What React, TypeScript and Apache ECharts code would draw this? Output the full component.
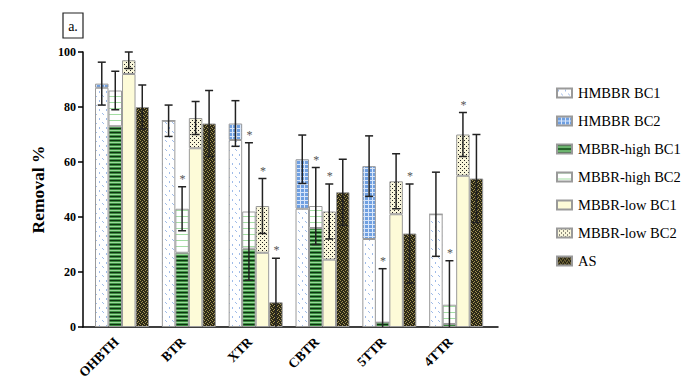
import React, { useEffect, useRef } from 'react';
import * as echarts from 'echarts';

const categories = ['OHBTH', 'BTR', 'XTR', 'CBTR', '5TTR', '4TTR'];
const seriesNames = ['HMBBR BC1', 'HMBBR BC2', 'MBBR-high BC1', 'MBBR-high BC2', 'MBBR-low BC1', 'MBBR-low BC2', 'AS'];

// stacked segment values (BC2 = extra on top of BC1)
const hmbbrBC1 = [87, 75, 68, 43, 32, 41];
const hmbbrBC2 = [1.5, 0, 6, 18, 26.5, 0];
const highBC1 = [73, 27, 28.5, 36, 1.7, 1.1];
const highBC2 = [13, 16, 13.5, 8, 0, 7];
const lowBC1 = [92, 65, 27, 24.5, 41, 55];
const lowBC2 = [5, 11, 17, 17.5, 12, 15];
const asValues = [80, 74, 9, 49, 34, 54];

// error (+/-) on totals
const hmbbrErr = [7.8, 5.7, 8.3, 8.8, 11, 15.3];
const highErr = [7, 8, 25, 14, 19.5, 16];
const lowErr = [3, 6, 10, 10, 10, 8];
const asErr = [8, 12, 16, 12, 18, 16];

// significance asterisks
const hmbbrStar = [0, 0, 0, 0, 0, 0];
const highStar = [0, 1, 1, 1, 1, 1];
const lowStar = [0, 0, 1, 1, 0, 1];
const asStar = [0, 0, 1, 0, 1, 0];

const yTicks = { min: 0, max: 100, interval: 20 };

const BAR_W = 13.5;
const SERIF = 'Liberation Serif';

function makePattern(w: number, h: number, draw: (ctx: CanvasRenderingContext2D) => void) {
  const c = document.createElement('canvas');
  c.width = w;
  c.height = h;
  const ctx = c.getContext('2d') as CanvasRenderingContext2D;
  draw(ctx);
  return { image: c, repeat: 'repeat' } as any;
}

function px(ctx: CanvasRenderingContext2D, color: string, pts: number[][]) {
  ctx.fillStyle = color;
  pts.forEach(([x, y]) => ctx.fillRect(x, y, 1, 1));
}

export default function App() {
  const ref = useRef<HTMLDivElement>(null);

  useEffect(() => {
    if (!ref.current) return;
    const chart = echarts.init(ref.current, undefined, { renderer: 'svg' });

    const pHBC1 = makePattern(7, 9, (ctx) => {
      ctx.fillStyle = '#ffffff';
      ctx.fillRect(0, 0, 7, 9);
      px(ctx, '#9fbbe8', [[1, 1], [1, 2], [4, 5], [5, 6]]);
    });
    const pHBC2 = makePattern(4, 4, (ctx) => {
      ctx.fillStyle = '#6f9fe0';
      ctx.fillRect(0, 0, 4, 4);
      ctx.fillStyle = '#d8e6fa';
      ctx.fillRect(0, 0, 4, 1);
      ctx.fillRect(0, 0, 1, 4);
    });
    const pMH1 = makePattern(4, 4, (ctx) => {
      ctx.fillStyle = '#0e3312';
      ctx.fillRect(0, 0, 4, 1);
      ctx.fillStyle = '#3a8c3e';
      ctx.fillRect(0, 1, 4, 1);
      ctx.fillStyle = '#9ad89a';
      ctx.fillRect(0, 2, 4, 1);
      ctx.fillStyle = '#3f9444';
      ctx.fillRect(0, 3, 4, 1);
    });
    const pMH2 = makePattern(4, 6, (ctx) => {
      ctx.fillStyle = '#ffffff';
      ctx.fillRect(0, 0, 4, 6);
      ctx.fillStyle = '#a3dea3';
      ctx.fillRect(0, 0, 4, 1);
    });
    const pML1 = '#fdfbd8';
    const pML2 = makePattern(4, 4, (ctx) => {
      ctx.fillStyle = '#f9f6da';
      ctx.fillRect(0, 0, 4, 4);
      px(ctx, '#222222', [[0, 0], [2, 2]]);
    });
    const pAS = makePattern(4, 4, (ctx) => {
      ctx.fillStyle = '#2c2918';
      ctx.fillRect(0, 0, 4, 4);
      px(ctx, '#a39350', [[0, 0], [2, 1], [1, 2], [3, 3]]);
    });

    const border = { borderColor: '#9a9a9a', borderWidth: 1 };
    const mkBar = (name: string, data: number[], stack: string, color: any) => ({
      name,
      type: 'bar',
      xAxisIndex: 1,
      yAxisIndex: 1,
      stack,
      barWidth: BAR_W,
      barGap: '0%',
      data,
      itemStyle: { color, ...border },
      emphasis: { disabled: true },
    });

    const groups = [
      { a: hmbbrBC1, b: hmbbrBC2, err: hmbbrErr, star: hmbbrStar },
      { a: highBC1, b: highBC2, err: highErr, star: highStar },
      { a: lowBC1, b: lowBC2, err: lowErr, star: lowStar },
      { a: asValues, b: null as number[] | null, err: asErr, star: asStar },
    ];
    const errData: number[][] = [];
    groups.forEach((g, gi) => {
      categories.forEach((_, i) => {
        const total = g.a[i] + (g.b ? g.b[i] : 0);
        errData.push([i, total, g.err[i], gi, g.star[i]]);
      });
    });

    const labelFont = { fontFamily: SERIF, fontWeight: 'bold' as const, color: '#000' };

    chart.setOption({
      animation: false,
      backgroundColor: '#ffffff',
      grid: [
        { left: 83, top: 52, width: 415, height: 275 },
        { left: 88.6, top: 52, width: 401, height: 275 },
      ],
      xAxis: [
        {
          gridIndex: 0, type: 'value', min: 0, max: 1,
          axisLine: { show: true, lineStyle: { color: '#000', width: 1.5 } },
          axisTick: { show: false }, axisLabel: { show: false }, splitLine: { show: false },
        },
        {
          gridIndex: 1, type: 'category', data: categories,
          axisLine: { show: false }, axisTick: { show: false },
          axisLabel: { rotate: 45, margin: 7, padding: [0, 8, 0, 0], fontSize: 13.5, ...labelFont, interval: 0 },
        },
      ],
      yAxis: [
        {
          gridIndex: 0, type: 'value', min: yTicks.min, max: yTicks.max, interval: yTicks.interval,
          axisLine: { show: true, lineStyle: { color: '#000', width: 1.5 } },
          axisTick: { show: true, length: 5, lineStyle: { color: '#000', width: 1.5 } },
          axisLabel: { margin: 7, fontSize: 12, ...labelFont },
          splitLine: { show: false },
          name: 'Removal %', nameLocation: 'middle', nameGap: 30, nameRotate: 90,
          nameTextStyle: { fontSize: 17.5, ...labelFont },
        },
        { gridIndex: 1, type: 'value', min: yTicks.min, max: yTicks.max, show: false },
      ],
      legend: {
        orient: 'vertical', left: 551, top: 80,
        itemWidth: 15, itemHeight: 9, itemGap: 12, icon: 'rect',
        textStyle: { fontFamily: SERIF, fontSize: 14.5, color: '#000', lineHeight: 16, padding: [0, 0, 0, 1] },
        data: seriesNames,
        selectedMode: false,
      },
      graphic: [
        { type: 'rect', shape: { x: 63, y: 13, width: 20, height: 25 }, style: { fill: '#fff', stroke: '#222', lineWidth: 1.2 } },
        { type: 'text', x: 73, y: 26, style: { text: 'a.', fontFamily: SERIF, fontSize: 14, fill: '#000', align: 'center', verticalAlign: 'middle' } },
      ],
      series: [
        mkBar(seriesNames[0], hmbbrBC1, 'h', pHBC1),
        mkBar(seriesNames[1], hmbbrBC2, 'h', pHBC2),
        mkBar(seriesNames[2], highBC1, 'mh', pMH1),
        mkBar(seriesNames[3], highBC2, 'mh', pMH2),
        mkBar(seriesNames[4], lowBC1, 'ml', pML1),
        mkBar(seriesNames[5], lowBC2, 'ml', pML2),
        mkBar(seriesNames[6], asValues, 'as', pAS),
        {
          name: 'err', type: 'custom', xAxisIndex: 1, yAxisIndex: 1, z: 10, silent: true, clip: false,
          data: errData,
          renderItem: (params: any, api: any) => {
            const cat = api.value(0);
            const mean = api.value(1);
            const err = api.value(2);
            const g = api.value(3);
            const star = api.value(4);
            const cx = api.coord([cat, 0])[0] + (g - 1.5) * BAR_W;
            const yTop = api.coord([cat, mean + err])[1];
            const low = Math.max(0, mean - err);
            const yBot = api.coord([cat, low])[1];
            const st = { stroke: '#222', lineWidth: 1.5 };
            const cap = 4;
            const children: any[] = [
              { type: 'line', shape: { x1: cx, y1: yTop, x2: cx, y2: yBot }, style: st },
              { type: 'line', shape: { x1: cx - cap, y1: yTop, x2: cx + cap, y2: yTop }, style: st },
            ];
            if (mean - err > 0) {
              children.push({ type: 'line', shape: { x1: cx - cap, y1: yBot, x2: cx + cap, y2: yBot }, style: st });
            }
            if (star) {
              children.push({
                type: 'text', x: cx + 0.5, y: yTop - 8,
                style: { text: '*', fontFamily: SERIF, fontSize: 12, fill: '#555', align: 'center', verticalAlign: 'middle' },
              });
            }
            return { type: 'group', children };
          },
        },
      ],
    });

    return () => chart.dispose();
  }, []);

  return <div ref={ref} style={{ position: 'fixed', left: 0, top: 0, width: 692, height: 386, background: '#fff' }} />;
}
